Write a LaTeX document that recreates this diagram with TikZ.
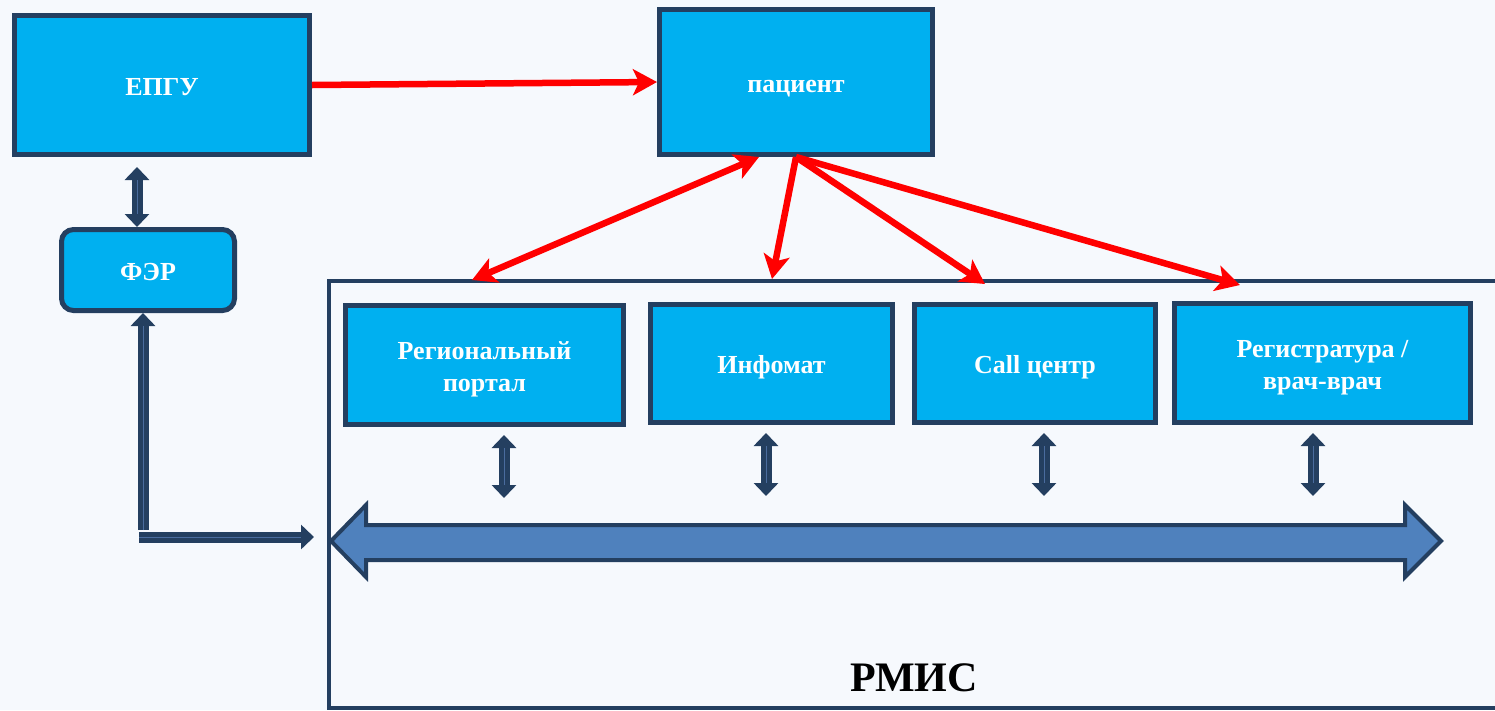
\documentclass[tikz,border=0pt]{standalone}
\usepackage{fontspec}
\setmainfont{Liberation Serif}
\usetikzlibrary{arrows.meta,calc}
\definecolor{boxblue}{HTML}{00B0F0}
\definecolor{navy}{HTML}{243F60}
\definecolor{busblue}{HTML}{4F81BD}
\definecolor{bgcol}{HTML}{F6F9FD}
\definecolor{redarr}{HTML}{FF0000}
\definecolor{midcol}{HTML}{4A6C9E}
\newcommand\lnst{\rule[-6pt]{0pt}{32pt}}
\begin{document}
\begin{tikzpicture}[x=1pt,y=-1pt,
  box/.style={draw=navy, line width=5pt, fill=boxblue, text=white,
    font=\fontsize{26}{32}\selectfont\bfseries, align=center, inner sep=0pt},
  redarrow/.style={draw=redarr, line width=6.5pt, -{Stealth[length=24pt,width=26pt,inset=6pt]}},
  redboth/.style={draw=redarr, line width=6.5pt, {Stealth[length=24pt,width=26pt,inset=6pt]}-{Stealth[length=24pt,width=26pt,inset=6pt]}},
  navyboth/.style={draw=navy, line width=11pt, {Triangle[length=13pt,width=24pt]}-{Triangle[length=13pt,width=24pt]}},
  navyone/.style={draw=navy, line width=11pt, -{Triangle[length=13pt,width=24pt]}},
  midline/.style={draw=midcol, line width=1pt},
  frame/.style={draw=navy, line width=4pt},
  bus/.style={draw=navy, line width=4pt, fill=busblue, line join=miter}
]
\useasboundingbox (0,0) rectangle (1495,710);
\fill[bgcol] (0,0) rectangle (1495,710);

% RMIS frame
\draw[frame] (1530,281) -- (329,281) -- (329,708) -- (1530,708);
\node[font=\fontsize{42}{48}\selectfont\bfseries, text=black, anchor=base] (rmis) at (914,691) {РМИС};

% nodes
\node[box, minimum width=295pt, minimum height=139pt] (epgu) at (162,85) {\lnst ЕПГУ};
\node[box, minimum width=273pt, minimum height=145pt] (pac) at (796,82) {\lnst пациент};
\node[box, rounded corners=12pt, minimum width=173pt, minimum height=81pt] (fer) at (148,270) {\lnst ФЭР};
\node[box, minimum width=278pt, minimum height=119pt] (portal) at (484.5,365) {\lnst Региональный\\\lnst портал};
\node[box, minimum width=242pt, minimum height=118pt] (infomat) at (771.5,363.5) {\lnst Инфомат};
\node[box, minimum width=241pt, minimum height=118pt] (call) at (1035,363.5) {\lnst Call центр};
\node[box, minimum width=296pt, minimum height=119pt] (reg) at (1322.5,363) {\lnst Регистратура /\\\lnst врач-врач};

% bus double arrow
\coordinate (busL) at (331,541);
\coordinate (busR) at (1441,541);
\draw[bus] (busL) -- (366,505) -- (366,525) -- (1405,525) -- (1405,505) -- (busR)
  -- (1405,577) -- (1405,560) -- (366,560) -- (366,577) -- cycle;

% red arrows
\draw[redarrow] (epgu.east) -- (pac.west);
\coordinate (t1) at (472,280);
\coordinate (t2) at (772,279);
\coordinate (t3) at (985,284);
\coordinate (t4) at (1240,285);
\draw[redboth] (t1) -- ([xshift=-37pt]pac.south);
\draw[redarrow] (pac.south) -- (t2);
\draw[redarrow] (pac.south) -- (t3);
\draw[redarrow] (pac.south) -- (t4);

% EPGU - FER
\draw[navyboth] ([xshift=-25pt,yshift=-10pt]epgu.south) -- ([xshift=-11pt]fer.north);
\draw[midline] ([xshift=-25pt,yshift=-23pt]epgu.south) -- ([xshift=-11pt,yshift=13pt]fer.north);

% FER - bus
\coordinate (ferdown) at (143,530);
\coordinate (busstart) at (139,537);
\coordinate (busin) at (314,537);
\draw[navyone] (ferdown) -- ([xshift=-5pt]fer.south);
\draw[midline] (ferdown) -- ([xshift=-5pt,yshift=-13pt]fer.south);
\draw[navyone] (busstart) -- (busin);
\draw[midline] (busstart) -- ([xshift=-13pt]busin);

% small vertical arrows
\foreach \n/\dx in {portal/19.5, infomat/-5.5, call/9, reg/-9.5}{
  \draw[navyboth] ([xshift=\dx pt,yshift=-8pt]\n.south) -- ([xshift=\dx pt,yshift=-71pt]\n.south);
  \draw[midline] ([xshift=\dx pt,yshift=-21pt]\n.south) -- ([xshift=\dx pt,yshift=-58pt]\n.south);
}
\end{tikzpicture}
\end{document}
